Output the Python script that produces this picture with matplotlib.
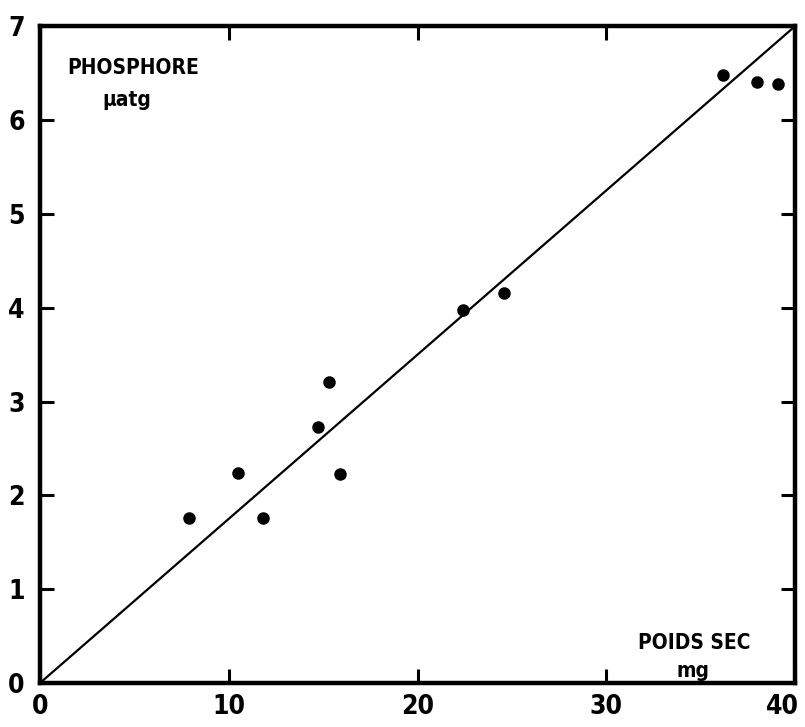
import matplotlib
matplotlib.use("Agg")
import matplotlib.pyplot as plt
import matplotlib.transforms as mtransforms
from matplotlib import font_manager

# valeurs
poids_sec = [7.9, 10.5, 11.8, 14.7, 15.3, 15.9, 22.4, 24.6, 36.2, 38.0, 39.1]
phosphore = [1.76, 2.24, 1.76, 2.73, 3.21, 2.23, 3.97, 4.16, 6.48, 6.41, 6.38]

droite_x = [0, 40]
droite_y = [0, 7]

xticks = [0, 10, 20, 30, 40]
yticks = [0, 1, 2, 3, 4, 5, 6, 7]

noms = {f.name for f in font_manager.fontManager.ttflist}
police = "Liberation Sans Narrow" if "Liberation Sans Narrow" in noms else "DejaVu Sans"
plt.rcParams['font.family'] = [police, 'DejaVu Sans']

fig = plt.figure(figsize=(8.05, 7.27), dpi=100)
ax = fig.add_axes([0.0497, 0.0605, 0.938, 0.9035])

ax.plot(droite_x, droite_y, color='black', linewidth=1.6)
ax.plot(poids_sec, phosphore, 'o', color='black', markersize=8)

ax.set_xlim(0, 40)
ax.set_ylim(0, 7)
ax.set_xticks(xticks)
ax.set_yticks(yticks)
ax.tick_params(direction='in', top=True, right=True, length=10, width=2.2,
               labelsize=19, pad=8)
ax.tick_params(axis='y', pad=11)
for lab in ax.get_xticklabels() + ax.get_yticklabels():
    lab.set_fontweight('bold')
    lab.set_fontstretch('condensed')
# le "40" est un peu décalé vers la gauche, comme sur l'original
dernier = ax.get_xticklabels()[-1]
dernier.set_transform(dernier.get_transform() +
                      mtransforms.ScaledTranslation(-9 / 72, 0, fig.dpi_scale_trans))
for s in ax.spines.values():
    s.set_linewidth(3.2)

style = dict(transform=ax.transAxes, fontsize=15, fontweight='bold',
             fontstretch='condensed', va='center')
ax.text(0.036, 0.936, "PHOSPHORE", ha='left', **style)
ax.text(0.115, 0.888, "µatg", ha='center', **style)
ax.text(0.867, 0.061, "POIDS SEC", ha='center', **style)
ax.text(0.865, 0.019, "mg", ha='center', **style)

fig.savefig("out.png", dpi=100)
